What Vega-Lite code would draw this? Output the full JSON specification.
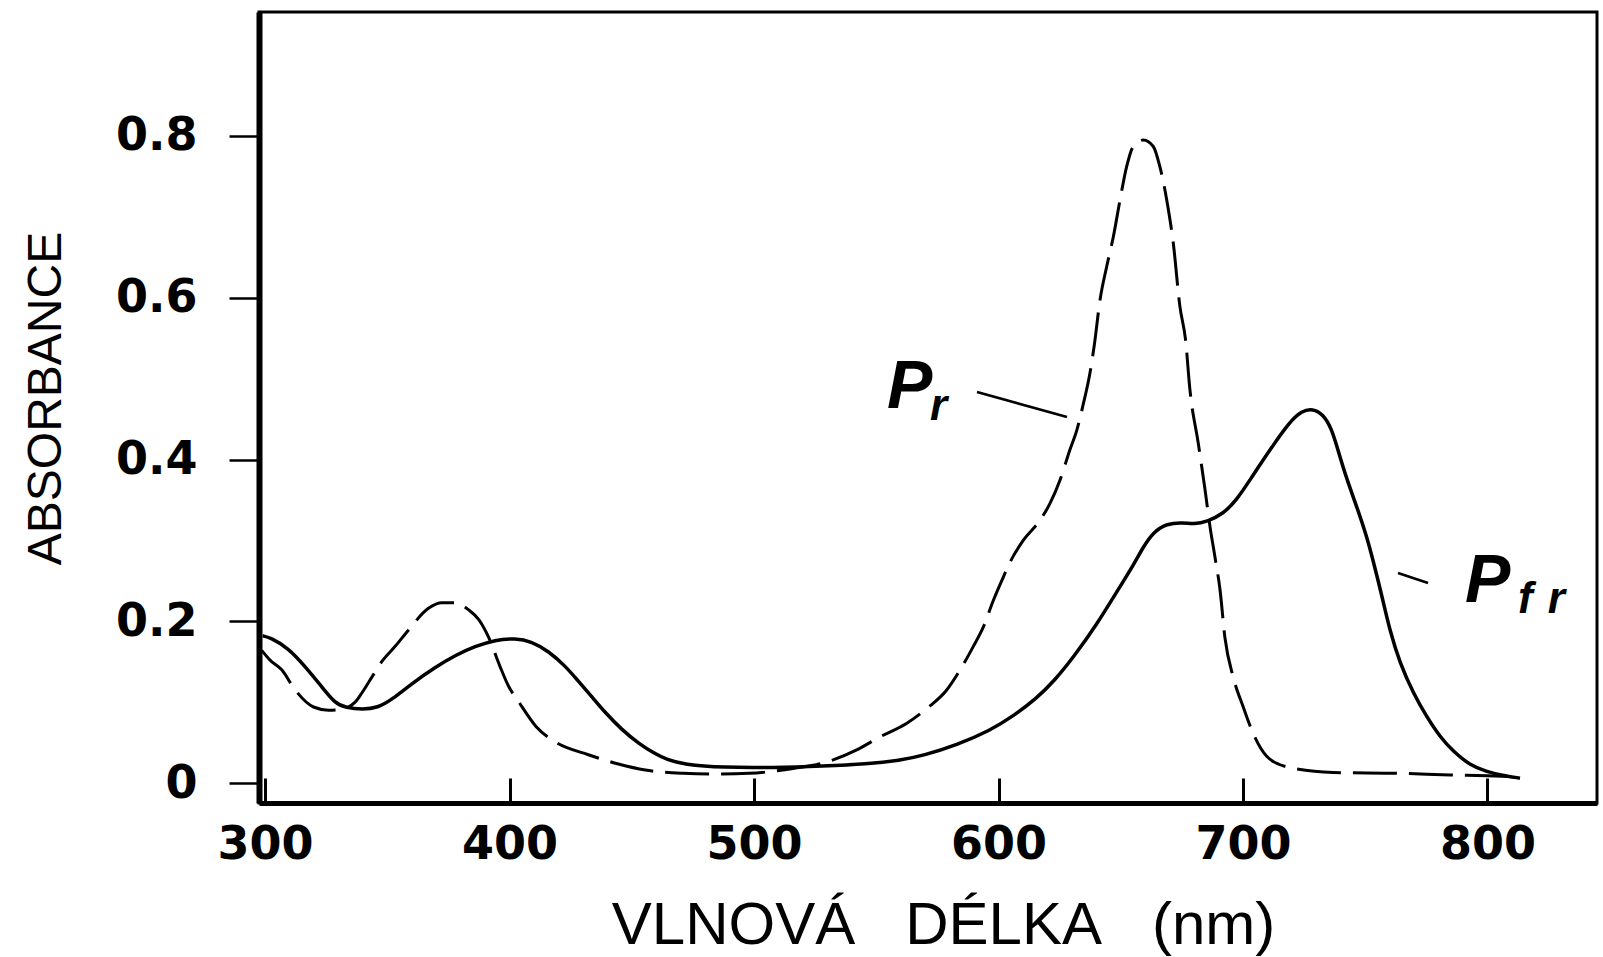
{
  "$schema": "https://vega.github.io/schema/vega-lite/v6.json",
  "autosize": {"type": "none"},
  "padding": {"left": 259, "top": 12, "right": 6, "bottom": 154},
  "width": 1338,
  "height": 791,
  "background": "white",
  "config": {"view": {"stroke": "#000", "strokeWidth": 3}},
  "datasets": {
    "pr": [
      {"wavelength": 298.6, "absorbance": 0.164}, {"wavelength": 302, "absorbance": 0.152}, {"wavelength": 306.8, "absorbance": 0.140},
      {"wavelength": 312.3, "absorbance": 0.115}, {"wavelength": 319.8, "absorbance": 0.094}, {"wavelength": 326, "absorbance": 0.090},
      {"wavelength": 331, "absorbance": 0.091}, {"wavelength": 336.8, "absorbance": 0.100}, {"wavelength": 339.5, "absorbance": 0.111},
      {"wavelength": 344.3, "absorbance": 0.134}, {"wavelength": 347.7, "absorbance": 0.150}, {"wavelength": 353.2, "absorbance": 0.169},
      {"wavelength": 358.6, "absorbance": 0.189}, {"wavelength": 366.8, "absorbance": 0.216}, {"wavelength": 372.3, "absorbance": 0.223},
      {"wavelength": 377.8, "absorbance": 0.223}, {"wavelength": 383.3, "absorbance": 0.214}, {"wavelength": 387.4, "absorbance": 0.202},
      {"wavelength": 391.3, "absorbance": 0.181}, {"wavelength": 396.1, "absorbance": 0.144}, {"wavelength": 399.7, "absorbance": 0.119},
      {"wavelength": 403.6, "absorbance": 0.101}, {"wavelength": 410.8, "absorbance": 0.070}, {"wavelength": 418.6, "absorbance": 0.051},
      {"wavelength": 432.2, "absorbance": 0.035}, {"wavelength": 444.5, "absorbance": 0.0235}, {"wavelength": 455.5, "absorbance": 0.016},
      {"wavelength": 471, "absorbance": 0.012}, {"wavelength": 485, "absorbance": 0.011}, {"wavelength": 498, "absorbance": 0.012},
      {"wavelength": 516, "absorbance": 0.018}, {"wavelength": 529.7, "absorbance": 0.026}, {"wavelength": 542, "absorbance": 0.041},
      {"wavelength": 551.5, "absorbance": 0.057}, {"wavelength": 562.5, "absorbance": 0.074}, {"wavelength": 570.6, "absorbance": 0.092},
      {"wavelength": 578.8, "absorbance": 0.115}, {"wavelength": 584.3, "absorbance": 0.140}, {"wavelength": 589.7, "absorbance": 0.169},
      {"wavelength": 593.8, "absorbance": 0.193}, {"wavelength": 597.9, "absorbance": 0.226}, {"wavelength": 602, "absorbance": 0.255},
      {"wavelength": 604.7, "absorbance": 0.273}, {"wavelength": 610.1, "absorbance": 0.300}, {"wavelength": 617, "absorbance": 0.325},
      {"wavelength": 621.1, "absorbance": 0.346}, {"wavelength": 625.2, "absorbance": 0.375}, {"wavelength": 629.2, "absorbance": 0.412},
      {"wavelength": 632, "absorbance": 0.436}, {"wavelength": 634.7, "absorbance": 0.469}, {"wavelength": 637.4, "absorbance": 0.507},
      {"wavelength": 639.2, "absorbance": 0.542}, {"wavelength": 641.5, "absorbance": 0.597}, {"wavelength": 644.2, "absorbance": 0.638},
      {"wavelength": 647, "absorbance": 0.676}, {"wavelength": 649.7, "absorbance": 0.721}, {"wavelength": 652.4, "absorbance": 0.762},
      {"wavelength": 655.1, "absorbance": 0.787}, {"wavelength": 659.2, "absorbance": 0.795}, {"wavelength": 663.3, "absorbance": 0.787},
      {"wavelength": 666, "absorbance": 0.762}, {"wavelength": 668.8, "absorbance": 0.721}, {"wavelength": 671.5, "absorbance": 0.667},
      {"wavelength": 674.2, "absorbance": 0.589}, {"wavelength": 676.5, "absorbance": 0.548}, {"wavelength": 678.3, "absorbance": 0.486},
      {"wavelength": 681.7, "absorbance": 0.420}, {"wavelength": 684.5, "absorbance": 0.362}, {"wavelength": 686.5, "absorbance": 0.317},
      {"wavelength": 688.5, "absorbance": 0.280}, {"wavelength": 690.6, "absorbance": 0.239}, {"wavelength": 692.6, "absorbance": 0.180},
      {"wavelength": 696, "absorbance": 0.131}, {"wavelength": 700.1, "absorbance": 0.094}, {"wavelength": 704.2, "absorbance": 0.061},
      {"wavelength": 709.7, "absorbance": 0.033}, {"wavelength": 717.9, "absorbance": 0.020}, {"wavelength": 736.9, "absorbance": 0.013},
      {"wavelength": 764.2, "absorbance": 0.012}, {"wavelength": 784.7, "absorbance": 0.010}, {"wavelength": 800, "absorbance": 0.009},
      {"wavelength": 810, "absorbance": 0.008}
    ],
    "pfr": [
      {"wavelength": 299, "absorbance": 0.182}, {"wavelength": 302, "absorbance": 0.180}, {"wavelength": 309.5, "absorbance": 0.167},
      {"wavelength": 316.4, "absorbance": 0.144}, {"wavelength": 323.2, "absorbance": 0.119}, {"wavelength": 328.6, "absorbance": 0.0985},
      {"wavelength": 333, "absorbance": 0.093}, {"wavelength": 340, "absorbance": 0.091}, {"wavelength": 346, "absorbance": 0.093},
      {"wavelength": 351.8, "absorbance": 0.103}, {"wavelength": 360, "absorbance": 0.123}, {"wavelength": 369.5, "absorbance": 0.143},
      {"wavelength": 377.8, "absorbance": 0.158}, {"wavelength": 385.9, "absorbance": 0.169}, {"wavelength": 394.1, "absorbance": 0.177},
      {"wavelength": 402.3, "absorbance": 0.179}, {"wavelength": 409.1, "absorbance": 0.175}, {"wavelength": 415.9, "absorbance": 0.163},
      {"wavelength": 422.7, "absorbance": 0.145}, {"wavelength": 428.1, "absorbance": 0.126}, {"wavelength": 433.6, "absorbance": 0.107},
      {"wavelength": 439.1, "absorbance": 0.087}, {"wavelength": 445.9, "absorbance": 0.066}, {"wavelength": 452.7, "absorbance": 0.049},
      {"wavelength": 459.5, "absorbance": 0.036}, {"wavelength": 464.3, "absorbance": 0.029}, {"wavelength": 471.1, "absorbance": 0.023},
      {"wavelength": 487.4, "absorbance": 0.019}, {"wavelength": 507.9, "absorbance": 0.019}, {"wavelength": 528.3, "absorbance": 0.021},
      {"wavelength": 546.1, "absorbance": 0.0235}, {"wavelength": 559.7, "absorbance": 0.028}, {"wavelength": 569.2, "absorbance": 0.034},
      {"wavelength": 582.9, "absorbance": 0.047}, {"wavelength": 596.6, "absorbance": 0.065}, {"wavelength": 606.1, "absorbance": 0.083},
      {"wavelength": 615.7, "absorbance": 0.105}, {"wavelength": 623, "absorbance": 0.127}, {"wavelength": 630.5, "absorbance": 0.155},
      {"wavelength": 640, "absorbance": 0.195}, {"wavelength": 649.7, "absorbance": 0.243}, {"wavelength": 655.1, "absorbance": 0.269},
      {"wavelength": 659.2, "absorbance": 0.292}, {"wavelength": 663.3, "absorbance": 0.310}, {"wavelength": 668.8, "absorbance": 0.321},
      {"wavelength": 675.6, "absorbance": 0.322}, {"wavelength": 680, "absorbance": 0.320}, {"wavelength": 685.2, "absorbance": 0.323},
      {"wavelength": 692, "absorbance": 0.333}, {"wavelength": 697.4, "absorbance": 0.350}, {"wavelength": 702.9, "absorbance": 0.375},
      {"wavelength": 711, "absorbance": 0.412}, {"wavelength": 719.2, "absorbance": 0.447}, {"wavelength": 724, "absorbance": 0.460},
      {"wavelength": 728.5, "absorbance": 0.463}, {"wavelength": 732.8, "absorbance": 0.456}, {"wavelength": 736.3, "absorbance": 0.438},
      {"wavelength": 739, "absorbance": 0.410}, {"wavelength": 742.4, "absorbance": 0.376}, {"wavelength": 746.5, "absorbance": 0.342},
      {"wavelength": 750.6, "absorbance": 0.305}, {"wavelength": 753.3, "absorbance": 0.274}, {"wavelength": 756.7, "absorbance": 0.233},
      {"wavelength": 760, "absorbance": 0.189}, {"wavelength": 764.2, "absorbance": 0.148}, {"wavelength": 769.7, "absorbance": 0.111},
      {"wavelength": 775.1, "absorbance": 0.082}, {"wavelength": 780.6, "absorbance": 0.057}, {"wavelength": 786, "absorbance": 0.039},
      {"wavelength": 792.8, "absorbance": 0.022}, {"wavelength": 799.7, "absorbance": 0.014}, {"wavelength": 805.1, "absorbance": 0.010},
      {"wavelength": 813.3, "absorbance": 0.006}
    ],
    "leaders": [
      {"id": "Pr", "wavelength": 591.2, "absorbance": 0.4835}, {"id": "Pr", "wavelength": 628.0, "absorbance": 0.4525},
      {"id": "Pfr", "wavelength": 763.4, "absorbance": 0.2597}, {"id": "Pfr", "wavelength": 775.7, "absorbance": 0.2473}
    ],
    "bigLabels": [
      {"text": "P", "wavelength": 554.4, "absorbance": 0.4637},
      {"text": "P", "wavelength": 790.8, "absorbance": 0.2238}
    ],
    "subLabels": [
      {"text": "r", "wavelength": 572, "absorbance": 0.4488},
      {"text": "f", "wavelength": 812.5, "absorbance": 0.2102},
      {"text": "r", "wavelength": 824.7, "absorbance": 0.2102}
    ]
  },
  "encoding": {
    "x": {
      "field": "wavelength", "type": "quantitative",
      "scale": {"domain": [297.5, 844.8], "nice": false, "zero": false},
      "axis": {
        "values": [300, 400, 500, 600, 700, 800], "format": "d", "grid": false,
        "domain": true, "domainColor": "#000", "domainWidth": 5,
        "ticks": true, "tickSize": -25, "tickWidth": 3, "tickColor": "#000",
        "labelFont": "DejaVu Sans", "labelFontWeight": "bold", "labelFontSize": 46, "labelColor": "#000",
        "labelPadding": 44, "labelFlush": false, "labelOverlap": false,
        "title": "VLNOVÁ\u00a0\u00a0\u00a0DÉLKA\u00a0\u00a0\u00a0(nm)",
        "titleFont": "Liberation Sans", "titleFontSize": 60, "titleFontWeight": "normal", "titleColor": "#000",
        "titleX": 684, "titleY": 140, "titleBaseline": "alphabetic", "titleAlign": "center"
      }
    },
    "y": {
      "field": "absorbance", "type": "quantitative",
      "scale": {"domain": [-0.0247, 0.9533], "nice": false, "zero": false},
      "axis": {
        "values": [0, 0.2, 0.4, 0.6, 0.8], "format": "~g", "grid": false,
        "domain": true, "domainColor": "#000", "domainWidth": 6,
        "ticks": true, "tickSize": 30, "tickWidth": 2.5, "tickColor": "#000",
        "labelFont": "DejaVu Sans", "labelFontWeight": "bold", "labelFontSize": 46, "labelColor": "#000",
        "labelPadding": 32, "labelFlush": false, "labelOverlap": false, "labelBaseline": "middle",
        "title": "ABSORBANCE",
        "titleFont": "Liberation Sans", "titleFontSize": 48, "titleFontWeight": "normal", "titleColor": "#000",
        "titleAngle": 270, "titleX": -199, "titleY": 386, "titleBaseline": "alphabetic", "titleAlign": "center"
      }
    }
  },
  "layer": [
    {
      "data": {"name": "pfr"},
      "mark": {"type": "line", "color": "#000", "strokeWidth": 3.5, "interpolate": "basis"}
    },
    {
      "data": {"name": "pr"},
      "mark": {"type": "line", "color": "#000", "strokeWidth": 3, "interpolate": "monotone", "strokeDash": [44, 12], "strokeCap": "butt"}
    },
    {
      "data": {"name": "leaders"},
      "mark": {"type": "line", "color": "#000", "strokeWidth": 2.5},
      "encoding": {"detail": {"field": "id"}}
    },
    {
      "data": {"name": "bigLabels"},
      "mark": {"type": "text", "color": "#000", "font": "Liberation Sans", "fontStyle": "italic", "fontWeight": "bold", "fontSize": 68, "align": "left", "baseline": "alphabetic"},
      "encoding": {"text": {"field": "text"}}
    },
    {
      "data": {"name": "subLabels"},
      "mark": {"type": "text", "color": "#000", "font": "Liberation Sans", "fontStyle": "italic", "fontWeight": "bold", "fontSize": 44, "align": "left", "baseline": "alphabetic"},
      "encoding": {"text": {"field": "text"}}
    }
  ]
}
